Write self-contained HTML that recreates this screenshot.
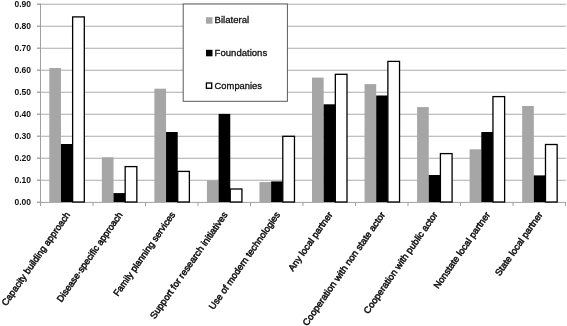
<!DOCTYPE html>
<html><head><meta charset="utf-8"><style>
html,body{margin:0;padding:0;background:#fff;}
body{width:567px;height:326px;overflow:hidden;}
svg{display:block;filter:grayscale(1) blur(0.35px);}
text{font-family:"Liberation Sans",sans-serif;fill:#111;}
.yl{font-size:8.5px;font-weight:bold;}
.xl{font-size:9.3px;stroke:#111;stroke-width:0.5px;}
.lg{font-size:9.2px;stroke:#111;stroke-width:0.3px;}
</style></head><body>
<svg width="567" height="326" viewBox="0 0 567 326">
<rect width="567" height="326" fill="#fff"/>
<line x1="37.0" y1="4.2" x2="566" y2="4.2" stroke="#ABABAB" stroke-width="1.1"/>
<line x1="37.0" y1="26.2" x2="566" y2="26.2" stroke="#ABABAB" stroke-width="1.1"/>
<line x1="37.0" y1="48.2" x2="566" y2="48.2" stroke="#ABABAB" stroke-width="1.1"/>
<line x1="37.0" y1="70.2" x2="566" y2="70.2" stroke="#ABABAB" stroke-width="1.1"/>
<line x1="37.0" y1="92.2" x2="566" y2="92.2" stroke="#ABABAB" stroke-width="1.1"/>
<line x1="37.0" y1="114.2" x2="566" y2="114.2" stroke="#ABABAB" stroke-width="1.1"/>
<line x1="37.0" y1="136.2" x2="566" y2="136.2" stroke="#ABABAB" stroke-width="1.1"/>
<line x1="37.0" y1="158.2" x2="566" y2="158.2" stroke="#ABABAB" stroke-width="1.1"/>
<line x1="37.0" y1="180.2" x2="566" y2="180.2" stroke="#ABABAB" stroke-width="1.1"/>
<line x1="37.0" y1="4.2" x2="40.5" y2="4.2" stroke="#A0A0A0" stroke-width="1"/>
<line x1="37.0" y1="26.2" x2="40.5" y2="26.2" stroke="#A0A0A0" stroke-width="1"/>
<line x1="37.0" y1="48.2" x2="40.5" y2="48.2" stroke="#A0A0A0" stroke-width="1"/>
<line x1="37.0" y1="70.2" x2="40.5" y2="70.2" stroke="#A0A0A0" stroke-width="1"/>
<line x1="37.0" y1="92.2" x2="40.5" y2="92.2" stroke="#A0A0A0" stroke-width="1"/>
<line x1="37.0" y1="114.2" x2="40.5" y2="114.2" stroke="#A0A0A0" stroke-width="1"/>
<line x1="37.0" y1="136.2" x2="40.5" y2="136.2" stroke="#A0A0A0" stroke-width="1"/>
<line x1="37.0" y1="158.2" x2="40.5" y2="158.2" stroke="#A0A0A0" stroke-width="1"/>
<line x1="37.0" y1="180.2" x2="40.5" y2="180.2" stroke="#A0A0A0" stroke-width="1"/>
<line x1="37.0" y1="202.2" x2="40.5" y2="202.2" stroke="#A0A0A0" stroke-width="1"/>
<line x1="37.0" y1="202.4" x2="566" y2="202.4" stroke="#A0A0A0" stroke-width="1"/>
<rect x="49.30" y="68" width="11.667" height="134.00" fill="#A6A6A6"/>
<rect x="60.97" y="144" width="11.667" height="58.00" fill="#000"/>
<rect x="72.63" y="16.9" width="11.667" height="185.10" fill="#fff" stroke="#000" stroke-width="1.3"/>
<rect x="101.84" y="157.3" width="11.667" height="44.70" fill="#A6A6A6"/>
<rect x="113.51" y="193.1" width="11.667" height="8.90" fill="#000"/>
<rect x="125.17" y="166.6" width="11.667" height="35.40" fill="#fff" stroke="#000" stroke-width="1.3"/>
<rect x="154.38" y="88.7" width="11.667" height="113.30" fill="#A6A6A6"/>
<rect x="166.05" y="132" width="11.667" height="70.00" fill="#000"/>
<rect x="177.71" y="171.4" width="11.667" height="30.60" fill="#fff" stroke="#000" stroke-width="1.3"/>
<rect x="206.92" y="180.4" width="11.667" height="21.60" fill="#A6A6A6"/>
<rect x="218.59" y="113.9" width="11.667" height="88.10" fill="#000"/>
<rect x="230.25" y="189" width="11.667" height="13.00" fill="#fff" stroke="#000" stroke-width="1.3"/>
<rect x="259.46" y="182.1" width="11.667" height="19.90" fill="#A6A6A6"/>
<rect x="271.13" y="181.4" width="11.667" height="20.60" fill="#000"/>
<rect x="282.79" y="136.3" width="11.667" height="65.70" fill="#fff" stroke="#000" stroke-width="1.3"/>
<rect x="312.00" y="77.6" width="11.667" height="124.40" fill="#A6A6A6"/>
<rect x="323.67" y="104.3" width="11.667" height="97.70" fill="#000"/>
<rect x="335.33" y="74.3" width="11.667" height="127.70" fill="#fff" stroke="#000" stroke-width="1.3"/>
<rect x="364.54" y="84.1" width="11.667" height="117.90" fill="#A6A6A6"/>
<rect x="376.21" y="95.5" width="11.667" height="106.50" fill="#000"/>
<rect x="387.87" y="61.4" width="11.667" height="140.60" fill="#fff" stroke="#000" stroke-width="1.3"/>
<rect x="417.08" y="107.1" width="11.667" height="94.90" fill="#A6A6A6"/>
<rect x="428.75" y="175" width="11.667" height="27.00" fill="#000"/>
<rect x="440.41" y="153.6" width="11.667" height="48.40" fill="#fff" stroke="#000" stroke-width="1.3"/>
<rect x="469.62" y="149.3" width="11.667" height="52.70" fill="#A6A6A6"/>
<rect x="481.29" y="132" width="11.667" height="70.00" fill="#000"/>
<rect x="492.95" y="96.6" width="11.667" height="105.40" fill="#fff" stroke="#000" stroke-width="1.3"/>
<rect x="522.16" y="106" width="11.667" height="96.00" fill="#A6A6A6"/>
<rect x="533.83" y="175.4" width="11.667" height="26.60" fill="#000"/>
<rect x="545.49" y="144.5" width="11.667" height="57.50" fill="#fff" stroke="#000" stroke-width="1.3"/>
<line x1="40.5" y1="3.5" x2="40.5" y2="206" stroke="#A0A0A0" stroke-width="1"/>
<line x1="40.50" y1="202.0" x2="40.50" y2="206" stroke="#A0A0A0" stroke-width="1"/>
<line x1="93.00" y1="202.0" x2="93.00" y2="206" stroke="#A0A0A0" stroke-width="1"/>
<line x1="145.50" y1="202.0" x2="145.50" y2="206" stroke="#A0A0A0" stroke-width="1"/>
<line x1="198.00" y1="202.0" x2="198.00" y2="206" stroke="#A0A0A0" stroke-width="1"/>
<line x1="250.50" y1="202.0" x2="250.50" y2="206" stroke="#A0A0A0" stroke-width="1"/>
<line x1="303.00" y1="202.0" x2="303.00" y2="206" stroke="#A0A0A0" stroke-width="1"/>
<line x1="355.50" y1="202.0" x2="355.50" y2="206" stroke="#A0A0A0" stroke-width="1"/>
<line x1="408.00" y1="202.0" x2="408.00" y2="206" stroke="#A0A0A0" stroke-width="1"/>
<line x1="460.50" y1="202.0" x2="460.50" y2="206" stroke="#A0A0A0" stroke-width="1"/>
<line x1="513.00" y1="202.0" x2="513.00" y2="206" stroke="#A0A0A0" stroke-width="1"/>
<line x1="565.50" y1="202.0" x2="565.50" y2="206" stroke="#A0A0A0" stroke-width="1"/>
<text x="31" y="205.2" text-anchor="end" class="yl">0.00</text>
<text x="31" y="183.2" text-anchor="end" class="yl">0.10</text>
<text x="31" y="161.2" text-anchor="end" class="yl">0.20</text>
<text x="31" y="139.2" text-anchor="end" class="yl">0.30</text>
<text x="31" y="117.2" text-anchor="end" class="yl">0.40</text>
<text x="31" y="95.2" text-anchor="end" class="yl">0.50</text>
<text x="31" y="73.2" text-anchor="end" class="yl">0.60</text>
<text x="31" y="51.2" text-anchor="end" class="yl">0.70</text>
<text x="31" y="29.2" text-anchor="end" class="yl">0.80</text>
<text x="31" y="7.2" text-anchor="end" class="yl">0.90</text>
<text class="xl" text-anchor="end" transform="translate(70.55,214.70) rotate(-55) scale(1.0,1)">Capacity building approach</text>
<text class="xl" text-anchor="end" transform="translate(123.05,214.70) rotate(-55) scale(0.987,1)">Disease&#183;specific approach</text>
<text class="xl" text-anchor="end" transform="translate(175.55,214.70) rotate(-55) scale(0.985,1)">Family planning services</text>
<text class="xl" text-anchor="end" transform="translate(228.05,214.70) rotate(-55) scale(1.02,1)">Support for research initiatives</text>
<text class="xl" text-anchor="end" transform="translate(280.55,214.70) rotate(-55) scale(1.01,1)">Use of modern technologies</text>
<text class="xl" text-anchor="end" transform="translate(333.05,214.70) rotate(-55) scale(1.0,1)">Any local partner</text>
<text class="xl" text-anchor="end" transform="translate(385.55,214.70) rotate(-55) scale(1.023,1)">Cooperation with non state actor</text>
<text class="xl" text-anchor="end" transform="translate(438.05,214.70) rotate(-55) scale(1.017,1)">Cooperation with public actor</text>
<text class="xl" text-anchor="end" transform="translate(490.55,214.70) rotate(-55) scale(1.0,1)">Nonstate local partner</text>
<text class="xl" text-anchor="end" transform="translate(543.05,214.70) rotate(-55) scale(1.0,1)">State local partner</text>
<rect x="183.2" y="4" width="104.2" height="97.3" fill="#fff" stroke="#5a5a5a" stroke-width="1"/>
<rect x="206" y="17.2" width="6.5" height="6.5" fill="#A6A6A6"/>
<text class="lg" transform="translate(214.6,22.9) scale(1.045,1)">Bilateral</text>
<rect x="206" y="49.8" width="6.5" height="6.5" fill="#000"/>
<text class="lg" transform="translate(214.6,55.5) scale(1.04,1)">Foundations</text>
<rect x="206.4" y="83.0" width="5.3" height="5.3" fill="#fff" stroke="#000" stroke-width="1.3"/>
<text class="lg" transform="translate(214.6,88.7) scale(1.02,1)">Companies</text>
</svg>
</body></html>
